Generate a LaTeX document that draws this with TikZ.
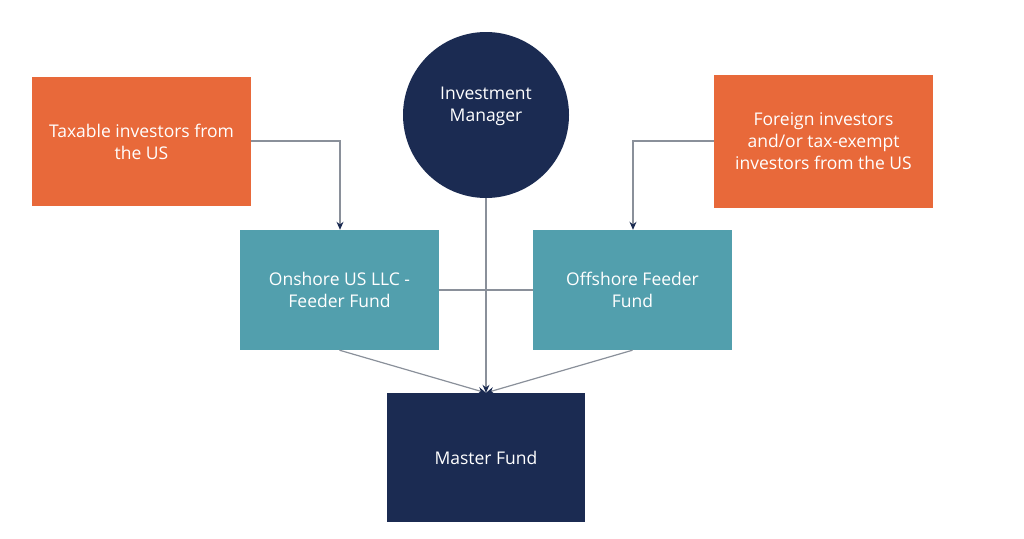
\documentclass[tikz,border=0pt]{standalone}
\usepackage{fontspec}
\setmainfont{Open Sans}
\usetikzlibrary{arrows.meta}
\definecolor{orng}{HTML}{E8693A}
\definecolor{teal2}{HTML}{529FAD}
\definecolor{navy}{HTML}{1B2B52}
\definecolor{lgray}{HTML}{8A909A}
\tikzset{txt/.style={font=\fontsize{17.5}{22}\selectfont}}
\begin{document}
\begin{tikzpicture}[x=1pt,y=-1pt,
  box/.style={draw=none,minimum width=#1,align=center,text=white,txt,inner sep=0pt},
  conn/.style={draw=lgray,line width=1.2pt},
  arr/.style={conn,-{Stealth[length=8pt,width=7pt,fill=navy,color=navy]}}]
\useasboundingbox (0,0) rectangle (1024,538);
\node[box=219pt,minimum height=129pt,fill=orng] (tax) at (141.5,141.5) {Taxable investors from\\the US};
\node[box=219pt,minimum height=133pt,fill=orng] (for) at (823.5,141.5) {Foreign investors\\and/or tax-exempt\\investors from the US};
\node[circle,fill=navy,minimum size=166pt,inner sep=0pt] (im) at (486,115) {};
\node[align=center,text=white,txt,inner sep=0pt] (imt) at (486,106) {Investment\\Manager};
\node[box=199pt,minimum height=120pt,fill=teal2] (on) at (339.5,290) {Onshore US LLC -\\Feeder Fund};
\node[box=199pt,minimum height=120pt,fill=teal2] (off) at (632.5,290) {Offshore Feeder\\Fund};
\node[box=198pt,minimum height=129pt,fill=navy] (mf) at (486,457.5) {Master Fund};
\coordinate (tk) at (340,141);
\coordinate (fk) at (633,141);
\draw[arr] (tax.east |- tk) -- (tk) -- (on.north -| tk);
\draw[arr] (for.west |- fk) -- (fk) -- (off.north -| fk);
\draw[conn] (on.east) -- (off.west);
\draw[arr] (im.south) -- (mf.north);
\draw[arr] (on.south) -- (mf.north);
\draw[arr] (off.south) -- (mf.north);
\end{tikzpicture}
\end{document}
